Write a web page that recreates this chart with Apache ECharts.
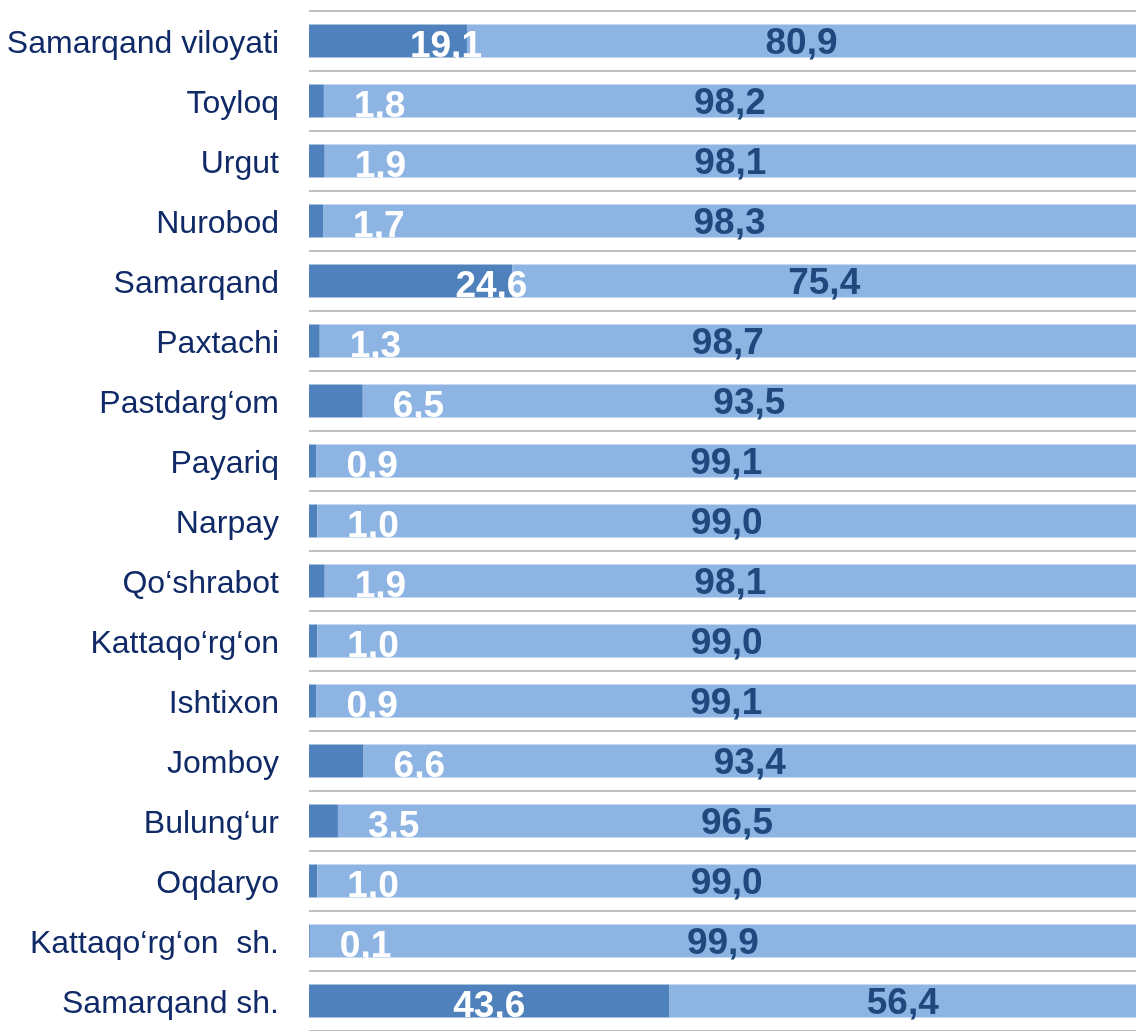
<!DOCTYPE html>
<html>
<head>
<meta charset="utf-8">
<script src="https://cdn.jsdelivr.net/npm/echarts@6/dist/echarts.min.js"></script>
<style>
html,body{margin:0;padding:0;background:#fff;}
#chart{width:1136px;height:1031px;}
</style>
</head>
<body>
<div id="chart"></div>
<script>
var categories = ["Samarqand viloyati","Toyloq","Urgut","Nurobod","Samarqand","Paxtachi","Pastdarg\u2018om","Payariq","Narpay","Qo\u2018shrabot","Kattaqo\u2018rg\u2018on","Ishtixon","Jomboy","Bulung\u2018ur","Oqdaryo","Kattaqo\u2018rg\u2018on  sh.","Samarqand sh."];
var seriesA = [19.1,1.8,1.9,1.7,24.6,1.3,6.5,0.9,1.0,1.9,1.0,0.9,6.6,3.5,1.0,0.1,43.6];
var seriesB = [80.9,98.2,98.1,98.3,75.4,98.7,93.5,99.1,99.0,98.1,99.0,99.1,93.4,96.5,99.0,99.9,56.4];

function fmt(v){ return v.toFixed(1).replace('.', ','); }

var labelFont = 'Liberation Sans, Arial, sans-serif';

var dataA = seriesA.map(function(v){
  var lab;
  if (v < 10) lab = {position:'right', distance:30, offset:[0,6]};
  else if (v < 30) lab = {position:'insideRight', offset:[20,6]};
  else lab = {position:'inside', offset:[0,6]};
  return {value:v, label:lab};
});

var chart = echarts.init(document.getElementById('chart'), null, {renderer:'canvas'});
chart.setOption({
  animation:false,
  backgroundColor:'#ffffff',
  grid:{left:309, top:11, width:836, height:1026},
  xAxis:{type:'value', min:0, max:100, show:false},
  yAxis:{
    type:'category', data:categories, inverse:true,
    axisLine:{show:false}, axisTick:{show:false},
    axisLabel:{margin:30, formatter:function(v){return '{c|' + v + '}';},
      rich:{c:{color:'#0f2a66', fontSize:32, fontFamily:labelFont, padding:[6,0,0,0]}}},
    splitLine:{show:true, lineStyle:{color:'#bfbfbf', width:2}}
  },
  series:[
    {type:'bar', stack:'s', data:dataA, barCategoryGap:'45%',
     itemStyle:{color:'#4f81bd'},
     label:{show:true, color:'#ffffff', fontSize:37, fontWeight:'bold', fontFamily:labelFont,
            formatter:function(p){return fmt(p.value);}}},
    {type:'bar', stack:'s', data:seriesB, barCategoryGap:'45%',
     itemStyle:{color:'#8eb4e3'},
     label:{show:true, position:'inside', offset:[0,3], color:'#1f497d', fontSize:37, fontWeight:'bold', fontFamily:labelFont,
            formatter:function(p){return fmt(p.value);}}}
  ]
});
</script>
</body>
</html>
